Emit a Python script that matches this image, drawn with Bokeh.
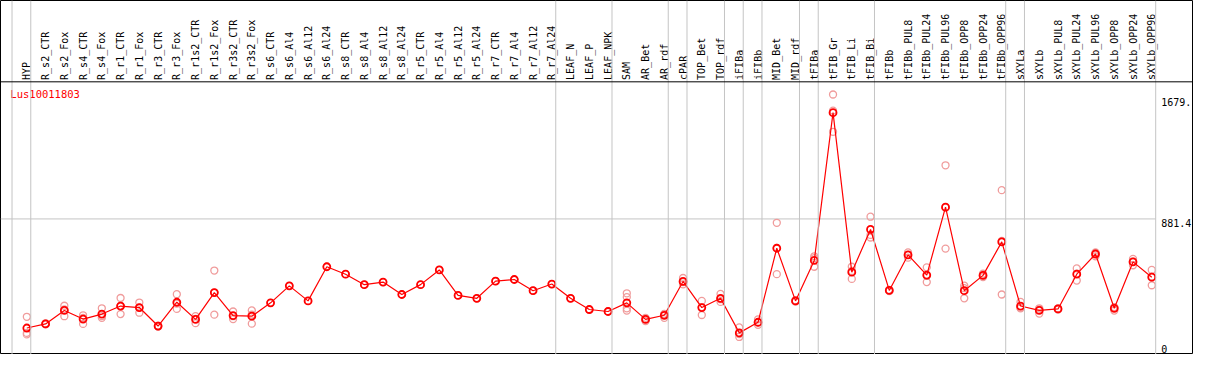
import math
import numpy as np
from bokeh.plotting import figure
from bokeh.models import Range1d, Span
from bokeh.core.properties import value
from bokeh.embed import file_html
from bokeh.resources import INLINE

gene = "Lus10011803"

categories = [
    "HYP", "R_s2_CTR", "R_s2_Fox", "R_s4_CTR", "R_s4_Fox", "R_r1_CTR", "R_r1_Fox",
    "R_r3_CTR", "R_r3_Fox", "R_r1s2_CTR", "R_r1s2_Fox", "R_r3s2_CTR", "R_r3s2_Fox",
    "R_s6_CTR", "R_s6_Al4", "R_s6_Al12", "R_s6_Al24", "R_s8_CTR", "R_s8_Al4",
    "R_s8_Al12", "R_s8_Al24", "R_r5_CTR", "R_r5_Al4", "R_r5_Al12", "R_r5_Al24",
    "R_r7_CTR", "R_r7_Al4", "R_r7_Al12", "R_r7_Al24", "LEAF_N", "LEAF_P", "LEAF_NPK",
    "SAM", "AR_Bet", "AR_rdf", "cPAR", "TOP_Bet", "TOP_rdf", "iFIBa", "iFIBb",
    "MID_Bet", "MID_rdf", "tFIBa", "tFIB_Gr", "tFIB_Li", "tFIB_Bi", "tFIBb",
    "tFIBb_PUL8", "tFIBb_PUL24", "tFIBb_PUL96", "tFIBb_OPP8", "tFIBb_OPP24",
    "tFIBb_OPP96", "sXYLa", "sXYLb", "sXYLb_PUL8", "sXYLb_PUL24", "sXYLb_PUL96",
    "sXYLb_OPP8", "sXYLb_OPP24", "sXYLb_OPP96",
]

means = [
    162, 189, 278, 221, 254, 307, 297, 175, 332, 219, 396, 244, 240,
    328, 440, 341, 566, 517, 448, 465, 383, 448, 545, 377, 358, 471, 482, 408, 452,
    358, 284, 271,
    328, 219, 246, 469, 297, 358, 130, 200, 688, 341,
    608, 1582, 530, 812,
    410, 644, 511, 959, 408, 509, 730,
    307, 278, 288, 517, 650, 292, 598, 497,
]

replicates = [
    [236, 130, 120], [186, 190, 192], [309, 240, 284], [246, 189, 228],
    [292, 229, 241], [360, 254, 307], [330, 263, 297], [172, 178, 175],
    [385, 288, 323], [240, 194, 222], [541, 250, 396], [271, 221, 240],
    [278, 191, 251],
    [328], [440], [341], [566], [517], [448], [465], [383], [448], [545], [377],
    [358], [471], [482], [408], [452],
    [358], [284], [271],
    [391, 366, 292, 277], [229, 208, 220], [254, 229, 255], [492, 450, 465],
    [341, 248, 300], [387, 334, 352], [166, 103, 122], [219, 183, 198],
    [856, 517, 691], [336, 345, 342],
    [635, 566, 623], [1702, 1596, 1456], [566, 486, 538], [896, 776, 759],
    [405, 414, 411], [661, 626, 645], [562, 465, 506], [1235, 686, 957],
    [442, 358, 425], [520, 498, 509], [1071, 383, 737],
    [334, 292, 296], [292, 257, 284], [283, 292, 289], [555, 475, 520],
    [635, 660, 655], [277, 300, 298], [618, 576, 600], [545, 444, 501],
]

group_sizes = [1, 28, 3, 3, 1, 2, 1, 1, 2, 1, 3, 7, 1, 7]
grid_value = 881.4
y_tick_values = [0, 881.4, 1679.5]
y_tick_labels = ["0", "881.4", "1679."]

# ---- layout constants ----
W, H = 1193, 354
X0, X1 = -1.405, 62.226
Y0, Y1 = -12.6, 2321.8
SEP_OFF = 0.21
HEADER_Y = 1785.5
LABEL_Y = 1798
TICK_X = 60.5
FONT = value("DejaVu Sans Mono")

p = figure(width=W, height=H, output_backend="svg", toolbar_location=None,
           x_range=Range1d(X0, X1), y_range=Range1d(Y0, Y1),
           x_axis_location=None, y_axis_location=None, min_border=0)
p.grid.visible = False
p.outline_line_color = "black"
p.outline_line_width = 1
p.background_fill_color = "white"
p.border_fill_color = "white"

idx = list(range(len(categories)))

# group separators
bounds = [-1] + list(np.cumsum(group_sizes) - 1)
for b in bounds:
    p.add_layout(Span(location=float(b) + SEP_OFF, dimension="height",
                      line_color="#c4c4c4", line_width=1))
last_sep = float(bounds[-1]) + SEP_OFF

# horizontal grid line
p.segment(x0=[X0], y0=[grid_value], x1=[last_sep], y1=[grid_value],
          line_color="#c4c4c4", line_width=1)

# header line
p.add_layout(Span(location=HEADER_Y, dimension="width", line_color="black", line_width=1))

# replicate points
rx, ry = [], []
for i, reps in enumerate(replicates):
    for r in reps:
        rx.append(i)
        ry.append(r)
p.scatter(rx, ry, marker="circle", size=7, fill_color=None,
          line_color="#f09c9c", line_width=1.3)

# mean line and points
p.line(idx, means, line_color="red", line_width=1.2)
p.scatter(idx, means, marker="circle", size=7, fill_color=None,
          line_color="red", line_width=1.8)

# category labels
p.text(x=idx, y=[LABEL_Y] * len(idx), text=categories, angle=math.pi / 2,
       text_align="left", text_baseline="middle", text_font=FONT,
       text_font_size="10px", text_color="black")

# gene name
p.text(x=[-0.879], y=[1708], text=[gene], text_align="left", text_baseline="middle",
       text_font=FONT, text_font_size="10.5px", text_color="red")

# y tick labels
p.text(x=[TICK_X] * 2, y=y_tick_values[1:], text=y_tick_labels[1:],
       text_align="left", text_baseline="top", text_font=FONT,
       text_font_size="10px", text_color="black")
p.text(x=[TICK_X], y=y_tick_values[:1], text=y_tick_labels[:1],
       text_align="left", text_baseline="bottom", text_font=FONT,
       text_font_size="10px", text_color="black")

open("out.html", "w").write(file_html(p, INLINE))
